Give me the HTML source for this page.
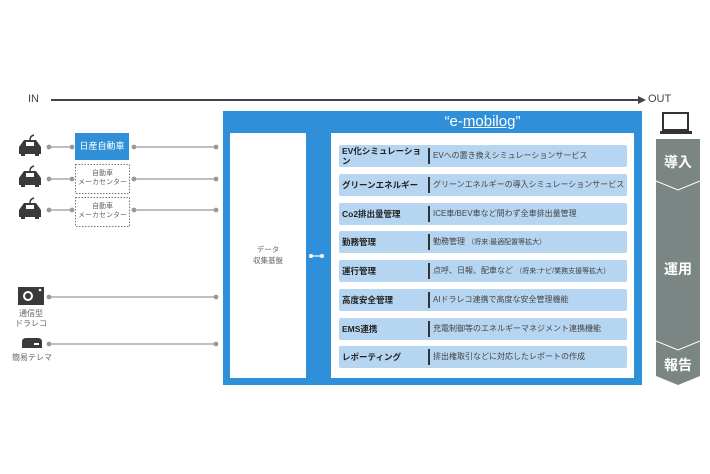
<!DOCTYPE html>
<html><head><meta charset="utf-8"><style>
body{margin:0;width:710px;height:474px;background:#fff;position:relative;overflow:hidden;font-family:"Liberation Sans","Noto Sans CJK JP",sans-serif}
.a{position:absolute}
.row{position:absolute;left:339px;width:288px;height:22px;background:#b6d5f0;border-radius:2px}
.row .l{position:absolute;left:3px;top:0;width:86px;height:22px;font-size:8.5px;font-weight:bold;color:#222;line-height:22px;white-space:nowrap}
.row .s{position:absolute;left:89px;top:3px;width:1.5px;height:16px;background:#333}
.row .r{position:absolute;left:94px;top:0;font-size:8px;color:#444;line-height:22px;white-space:nowrap}
.sm{font-size:7px;color:#666;text-align:center;line-height:9px}
</style></head><body>
<div class="a" style="left:28px;top:93px;font-size:11px;color:#444">IN</div>
<div class="a" style="left:648px;top:93px;font-size:11px;color:#444">OUT</div>
<svg class="a" style="left:0;top:0" width="710" height="474">
<line x1="51" y1="100" x2="640" y2="100" stroke="#444" stroke-width="2"/>
<polygon points="646,100 638,96 638,104" fill="#444"/>
<g stroke="#999" stroke-width="1.2" fill="#999">
<line x1="49" y1="147" x2="72" y2="147"/><circle cx="49" cy="147" r="1.8"/><circle cx="72" cy="147" r="1.8"/>
<line x1="49" y1="179" x2="72" y2="179"/><circle cx="49" cy="179" r="1.8"/><circle cx="72" cy="179" r="1.8"/>
<line x1="49" y1="210" x2="72" y2="210"/><circle cx="49" cy="210" r="1.8"/><circle cx="72" cy="210" r="1.8"/>
<line x1="134" y1="147" x2="216" y2="147"/><circle cx="134" cy="147" r="1.8"/><circle cx="216" cy="147" r="1.8"/>
<line x1="134" y1="179" x2="216" y2="179"/><circle cx="134" cy="179" r="1.8"/><circle cx="216" cy="179" r="1.8"/>
<line x1="134" y1="210" x2="216" y2="210"/><circle cx="134" cy="210" r="1.8"/><circle cx="216" cy="210" r="1.8"/>
<line x1="49" y1="297" x2="216" y2="297"/><circle cx="49" cy="297" r="1.8"/><circle cx="216" cy="297" r="1.8"/>
<line x1="49" y1="344" x2="216" y2="344"/><circle cx="49" cy="344" r="1.8"/><circle cx="216" cy="344" r="1.8"/>
</g>
<g fill="#3a3a3a">
<g id="car"><path d="M24,140 h12 l5,7 v7 h-22 v-7 z"/><rect x="21" y="152" width="4" height="4"/><rect x="35" y="152" width="4" height="4"/><rect x="26" y="142" width="8" height="4" fill="#fff"/><path d="M30,140 q0,-4 4,-5" stroke="#3a3a3a" fill="none" stroke-width="1.5"/></g>
<use href="#car" y="31"/><use href="#car" y="63"/>
<rect x="18" y="287" width="26" height="18"/><circle cx="28" cy="296" r="5" fill="#fff"/><circle cx="28" cy="296" r="3"/><circle cx="40" cy="290" r="1.3" fill="#fff"/>
<path d="M22,348 v-6 q0,-4 4,-4 h12 q4,0 4,4 v6 z"/><rect x="34" y="343" width="5" height="2" fill="#fff"/>
</g>
<rect x="75.5" y="164.5" width="54" height="29" fill="none" stroke="#777" stroke-dasharray="1.5,1.5"/>
<rect x="75.5" y="197.5" width="54" height="29" fill="none" stroke="#777" stroke-dasharray="1.5,1.5"/>
<rect x="223" y="111" width="419" height="274" fill="#2f8fd8"/>
<rect x="230" y="133" width="76" height="245" fill="#fff"/>
<rect x="331" y="133" width="303" height="245" fill="#fff"/>
<line x1="311" y1="256" x2="322" y2="256" stroke="#fff" stroke-width="1.2"/><circle cx="311" cy="256" r="2" fill="#fff"/><circle cx="322" cy="256" r="2" fill="#fff"/>
<rect x="663" y="113" width="25" height="17" fill="none" stroke="#333" stroke-width="2"/><rect x="660" y="131" width="32" height="3" fill="#333"/>
<path d="M656,139 H700 V376 L678,385 L656,376 Z" fill="#7b8583"/>
<polyline points="656,181 678,190 700,181" fill="none" stroke="#fff" stroke-width="1"/>
<polyline points="656,341 678,350 700,341" fill="none" stroke="#fff" stroke-width="1"/>
</svg>
<div class="a" style="left:75px;top:133px;width:54px;height:27px;background:#2f8fd8;color:#fff;font-size:9px;line-height:27px;text-align:center">日産自動車</div>
<div class="a sm" style="left:75px;top:169px;width:55px">自動車<br>メーカセンター</div>
<div class="a sm" style="left:75px;top:202px;width:55px">自動車<br>メーカセンター</div>
<div class="a sm" style="left:14px;top:309px;width:34px;font-size:8px;line-height:10px">通信型<br>ドラレコ</div>
<div class="a sm" style="left:8px;top:353px;width:48px;font-size:8px">簡易テレマ</div>
<div class="a sm" style="left:230px;top:244px;width:76px;font-size:7.5px;line-height:11px">データ<br>収集基盤</div>
<div class="a" style="left:331px;top:111px;width:303px;text-align:center;color:#fff;font-size:15px;line-height:22px">“e-<u>mobilog</u>”</div>
<div class="row" style="top:145px"><div class="l" style="line-height:10px;top:1px">EV化シミュレーショ<br>ン</div><div class="s"></div><div class="r">EVへの置き換えシミュレーションサービス</div></div>
<div class="row" style="top:174px"><div class="l">グリーンエネルギー</div><div class="s"></div><div class="r">グリーンエネルギーの導入シミュレーションサービス</div></div>
<div class="row" style="top:203px"><div class="l">Co2排出量管理</div><div class="s"></div><div class="r">ICE車/BEV車など問わず全車排出量管理</div></div>
<div class="row" style="top:231px"><div class="l">勤務管理</div><div class="s"></div><div class="r">勤務管理 <span style="font-size:7px">（将来:最適配置等拡大）</span></div></div>
<div class="row" style="top:260px"><div class="l">運行管理</div><div class="s"></div><div class="r">点呼、日報、配車など <span style="font-size:7px">（将来:ナビ/業務支援等拡大）</span></div></div>
<div class="row" style="top:289px"><div class="l">高度安全管理</div><div class="s"></div><div class="r">AIドラレコ連携で高度な安全管理機能</div></div>
<div class="row" style="top:318px"><div class="l">EMS連携</div><div class="s"></div><div class="r">充電制御等のエネルギーマネジメント連携機能</div></div>
<div class="row" style="top:346px"><div class="l">レポーティング</div><div class="s"></div><div class="r">排出権取引などに対応したレポートの作成</div></div>
<div class="a" style="left:656px;top:152px;width:44px;text-align:center;color:#fff;font-weight:bold;font-size:14px">導入</div>
<div class="a" style="left:656px;top:259px;width:44px;text-align:center;color:#fff;font-weight:bold;font-size:14px">運用</div>
<div class="a" style="left:656px;top:355px;width:44px;text-align:center;color:#fff;font-weight:bold;font-size:14px">報告</div>
</body></html>
